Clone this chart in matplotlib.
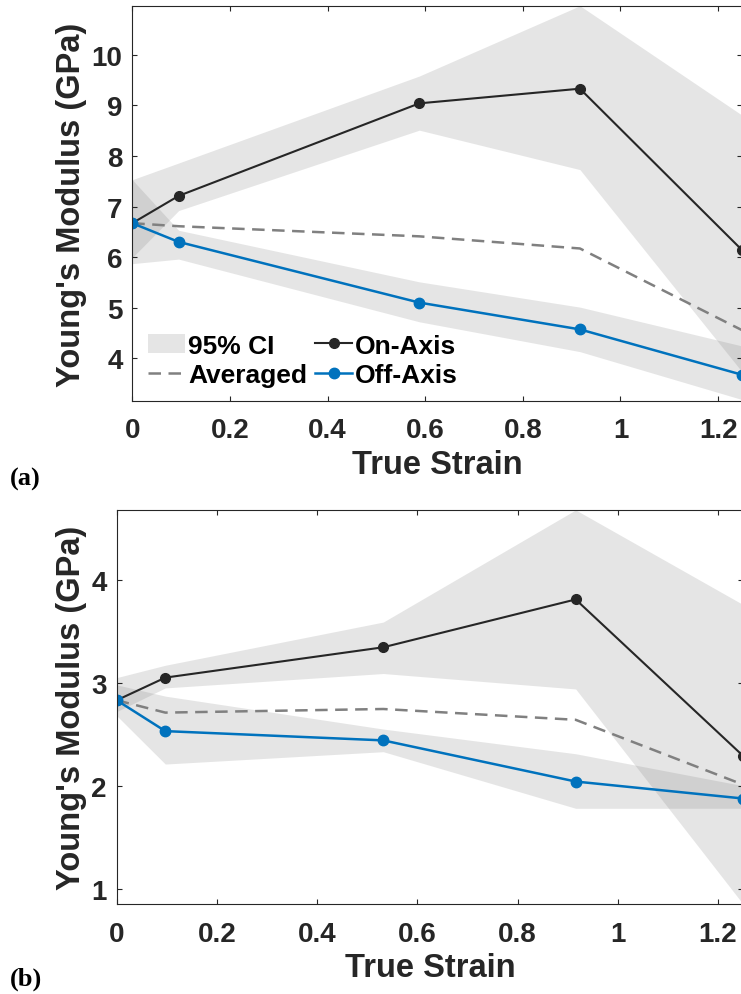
import matplotlib
matplotlib.use("Agg")
import matplotlib.pyplot as plt
from matplotlib.ticker import FuncFormatter

# (a) panel
strain_a = [0, 0.095, 0.588, 0.917, 1.25]
on_a = [6.67, 7.21, 9.04, 9.33, 6.13]
off_a = [6.67, 6.30, 5.10, 4.57, 3.67]
avg_a = [6.67, 6.61, 6.41, 6.17, 4.55]
on_lo_a = [5.99, 6.92, 8.51, 7.73, 3.72]
on_hi_a = [7.53, 7.86, 9.58, 10.97, 8.80]
off_lo_a = [5.87, 5.96, 4.72, 4.13, 3.18]
off_hi_a = [7.53, 6.53, 5.51, 5.01, 4.24]

# (b) panel
strain_b = [0, 0.097, 0.532, 0.916, 1.25]
on_b = [2.83, 3.05, 3.345, 3.81, 2.29]
off_b = [2.83, 2.53, 2.44, 2.04, 1.875]
avg_b = [2.83, 2.71, 2.745, 2.64, 2.01]
on_lo_b = [2.72, 2.95, 3.09, 2.94, 0.85]
on_hi_b = [3.05, 3.17, 3.59, 4.68, 3.76]
off_lo_b = [2.68, 2.21, 2.33, 1.78, 1.78]
off_hi_b = [2.98, 2.87, 2.55, 2.31, 2.00]

x_ticks = [0, 0.2, 0.4, 0.6, 0.8, 1, 1.2]
y_ticks_a = [4, 5, 6, 7, 8, 9, 10]
y_ticks_b = [1, 2, 3, 4]

plt.rcParams['font.family'] = ['Liberation Sans', 'DejaVu Sans']
plt.rcParams['font.weight'] = 'bold'
plt.rcParams['axes.labelweight'] = 'bold'

AZUL = '#0072BD'
PRETO = '#262626'
CINZA = '#808080'


def painel(ax, x, on, off, avg, on_lo, on_hi, off_lo, off_hi, ylim, yticks):
    ci = ax.fill_between(x, on_lo, on_hi, color='#7f7f7f', alpha=0.2, lw=0, label='95% CI')
    ax.fill_between(x, off_lo, off_hi, color='#7f7f7f', alpha=0.2, lw=0)
    l_avg, = ax.plot(x, avg, color=CINZA, lw=1.8, dashes=(5, 3), label='Averaged')
    l_on, = ax.plot(x, on, color=PRETO, lw=1.5, marker='o', ms=7, label='On-Axis')
    l_off, = ax.plot(x, off, color=AZUL, lw=1.8, marker='o', ms=7.5, label='Off-Axis')
    ax.set_xlim(0, 1.25)
    ax.set_ylim(*ylim)
    ax.set_xticks(x_ticks)
    ax.set_yticks(yticks)
    ax.xaxis.set_major_formatter(FuncFormatter(lambda v, p: '%g' % v))
    ax.tick_params(direction='in', top=True, right=True, length=3.6, width=0.8,
                   color=PRETO, labelsize=20, labelcolor=PRETO)
    ax.tick_params(axis='x', pad=12)
    ax.tick_params(axis='y', pad=7)
    for s in ax.spines.values():
        s.set_color(PRETO)
        s.set_linewidth(0.8)
    ax.set_xlabel('True Strain', fontsize=23.5, fontweight='bold', color=PRETO, labelpad=4)
    ax.set_ylabel("Young's Modulus (GPa)", fontsize=23.5, fontweight='bold', color=PRETO)
    return [ci, l_avg, l_on, l_off]


fig = plt.figure(figsize=(7.41, 9.95), dpi=100)
ax1 = fig.add_axes([0.1785, 0.5963, 0.8235, 0.3964])
ax2 = fig.add_axes([0.1575, 0.0905, 0.8452, 0.3960])

handles = painel(ax1, strain_a, on_a, off_a, avg_a, on_lo_a, on_hi_a, off_lo_a, off_hi_a,
                 (3.16, 10.96), y_ticks_a)
painel(ax2, strain_b, on_b, off_b, avg_b, on_lo_b, on_hi_b, off_lo_b, off_hi_b,
       (0.85, 4.68), y_ticks_b)

ax1.yaxis.set_label_coords(-0.0742, 0.5)
ax2.yaxis.set_label_coords(-0.0474, 0.5)

ax1.legend(handles=handles, ncol=2, frameon=False, loc='lower left',
           bbox_to_anchor=(0.026, 0.035), borderpad=0, borderaxespad=0,
           fontsize=19, handlelength=1.4, handletextpad=0.12,
           columnspacing=0.3, labelspacing=0.2)

fig.text(10 / 741, 0.5186, '(a)', family='Liberation Serif', weight='bold',
         fontsize=19, ha='left', va='center')
fig.text(10 / 741, 0.0156, '(b)', family='Liberation Serif', weight='bold',
         fontsize=19, ha='left', va='center')

fig.savefig('out.png', dpi=100)
